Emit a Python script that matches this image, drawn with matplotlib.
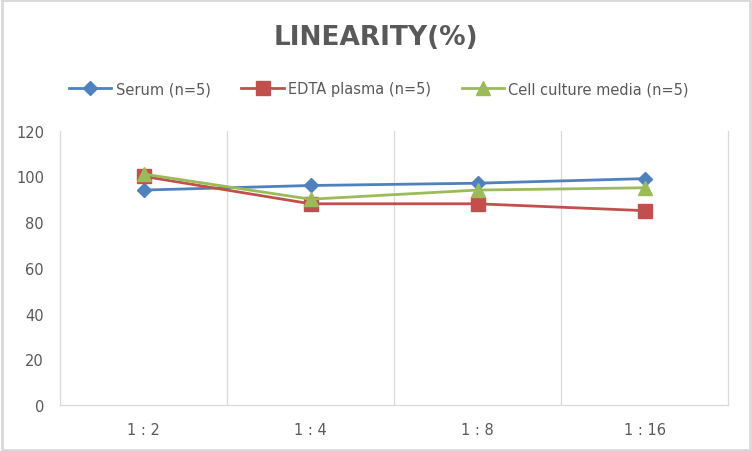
import matplotlib.pyplot as plt
from matplotlib.patches import Rectangle

# dilution steps and recovery (%) per sample type
dilutions = ["1 : 2", "1 : 4", "1 : 8", "1 : 16"]
serum = [94, 96, 97, 99]
edta_plasma = [100, 88, 88, 85]
cell_culture = [101, 90, 94, 95]

series_names = ["Serum (n=5)", "EDTA plasma (n=5)", "Cell culture media (n=5)"]
y_ticks = [0, 20, 40, 60, 80, 100, 120]

text_gray = "#595959"
grid_gray = "#d9d9d9"

fig = plt.figure(figsize=(7.52, 4.52), dpi=100)
ax = fig.add_axes([0.0798, 0.1018, 0.8883, 0.607])

x = list(range(len(dilutions)))

# draw the three lines
ax.plot(x, serum, color="#4F81BD", lw=2.0, marker="D", markersize=7,
        label=series_names[0])
ax.plot(x, edta_plasma, color="#C0504D", lw=2.0, marker="s", markersize=9.5,
        label=series_names[1])
ax.plot(x, cell_culture, color="#9BBB59", lw=2.0, marker="^", markersize=10,
        label=series_names[2])

# axes ranges and ticks
ax.set_xlim(-0.5, len(dilutions) - 0.5)
ax.set_ylim(0, 120)
ax.set_yticks(y_ticks)
ax.set_xticks(x)
ax.set_xticklabels(dilutions)
ax.set_xticks([i + 0.5 for i in x[:-1]], minor=True)
ax.tick_params(axis="both", which="both", length=0, colors=text_gray,
               labelsize=10.5)
ax.tick_params(axis="y", pad=11.5)
ax.tick_params(axis="x", pad=12)

# vertical grid lines between categories
ax.grid(axis="x", which="minor", color=grid_gray, lw=0.9)
ax.set_axisbelow(True)

for side in ["left", "bottom", "right"]:
    ax.spines[side].set_color(grid_gray)
    ax.spines[side].set_linewidth(0.9)
ax.spines["top"].set_visible(False)

# title and legend
fig.text(0.5, 0.916, "LINEARITY(%)", ha="center", va="center",
         fontsize=19, fontweight="bold", color=text_gray)
fig.legend(loc="center", bbox_to_anchor=(0.504, 0.801), ncol=3,
           frameon=False, fontsize=10.5, handlelength=2.9,
           handletextpad=0.3, columnspacing=2.1, labelcolor=text_gray)

# light gray border around the whole chart
fig.patches.append(Rectangle((0.002, 0.003), 0.996, 0.994,
                             transform=fig.transFigure, fill=False,
                             edgecolor=grid_gray, lw=2))

fig.savefig("out.png", dpi=100)
plt.close()
